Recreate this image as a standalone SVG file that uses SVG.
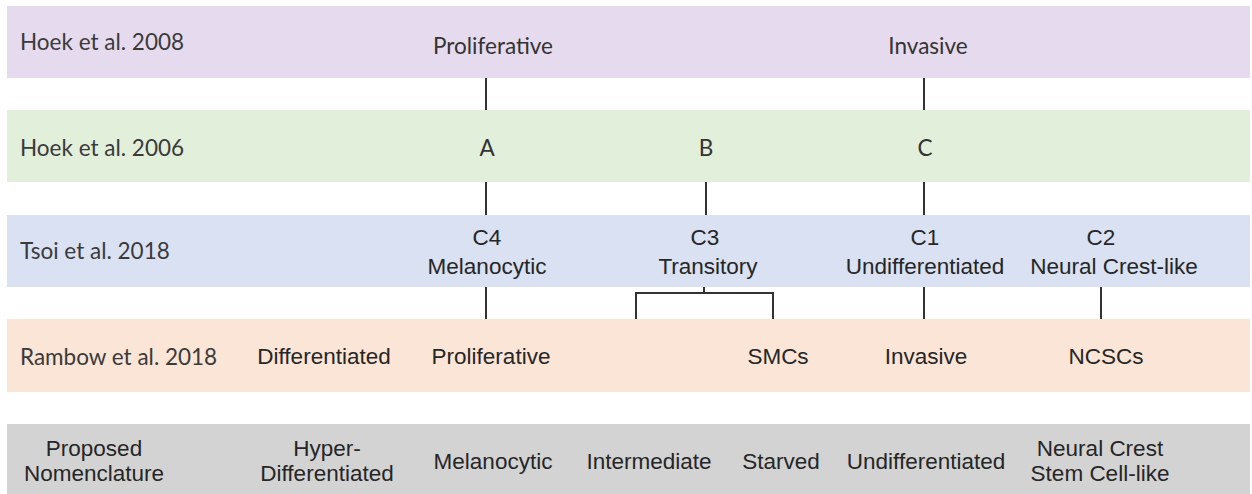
<svg xmlns="http://www.w3.org/2000/svg" width="1252" height="494" viewBox="0 0 1252 494">
<style>
.band{stroke:none}
.lab{font-family:"Lato","Open Sans",sans-serif;font-size:22.5px;fill:#3a3a3a}
.t{font-family:"Liberation Sans",Arial,sans-serif;font-size:22.5px;fill:#262626;text-anchor:middle}
.tc{font-family:"Lato","Open Sans",sans-serif;font-size:22.5px;fill:#333;text-anchor:middle}
.ln{stroke:#333;stroke-width:2;fill:none}
</style>
<rect width="1252" height="494" fill="#fff"/>
<g id="row-hoek2008">
<rect class="band" x="7" y="6" width="1243" height="72" fill="#E6DAEE"/>
<text class="lab" x="20" y="50">Hoek et al. 2008</text>
<text class="tc" x="493" y="54">Proliferative</text>
<text class="tc" x="928" y="54">Invasive</text>
</g>
<g id="row-hoek2006">
<rect class="band" x="7" y="110" width="1243" height="72" fill="#E2EFDA"/>
<text class="lab" x="20" y="156">Hoek et al. 2006</text>
<text class="tc" x="487" y="156">A</text>
<text class="tc" x="706" y="156">B</text>
<text class="tc" x="925" y="156">C</text>
</g>
<g id="row-tsoi2018">
<rect class="band" x="7" y="215" width="1243" height="72" fill="#D9E1F2"/>
<text class="lab" x="20" y="259">Tsoi et al. 2018</text>
<text class="t" x="487" y="245">C4</text>
<text class="t" x="487" y="274">Melanocytic</text>
<text class="t" x="705" y="245">C3</text>
<text class="t" x="708" y="274">Transitory</text>
<text class="t" x="925" y="245">C1</text>
<text class="t" x="925" y="274">Undifferentiated</text>
<text class="t" x="1101" y="245">C2</text>
<text class="t" x="1114" y="274">Neural Crest-like</text>
</g>
<g id="row-rambow2018">
<rect class="band" x="7" y="319" width="1243" height="73" fill="#FBE5D6"/>
<text class="lab" x="20" y="365">Rambow et al. 2018</text>
<text class="t" x="324" y="364">Differentiated</text>
<text class="t" x="491" y="364">Proliferative</text>
<text class="t" x="778" y="364">SMCs</text>
<text class="t" x="926" y="364">Invasive</text>
<text class="t" x="1106" y="364">NCSCs</text>
</g>
<g id="row-proposed">
<rect class="band" x="7" y="424" width="1243" height="70" fill="#D3D3D3"/>
<text class="t" x="94" y="456">Proposed</text>
<text class="t" x="94" y="481">Nomenclature</text>
<text class="t" x="327" y="456">Hyper-</text>
<text class="t" x="327" y="481">Differentiated</text>
<text class="t" x="493" y="469">Melanocytic</text>
<text class="t" x="649" y="469">Intermediate</text>
<text class="t" x="781" y="469">Starved</text>
<text class="t" x="926" y="469">Undifferentiated</text>
<text class="t" x="1100" y="456">Neural Crest</text>
<text class="t" x="1100" y="481">Stem Cell-like</text>
</g>
<g id="connectors">
<line class="ln" x1="486" y1="78" x2="486" y2="110"/>
<line class="ln" x1="924" y1="78" x2="924" y2="110"/>
<line class="ln" x1="486" y1="182" x2="486" y2="215"/>
<line class="ln" x1="706" y1="182" x2="706" y2="215"/>
<line class="ln" x1="924" y1="182" x2="924" y2="215"/>
<line class="ln" x1="486" y1="287" x2="486" y2="319"/>
<line class="ln" x1="924" y1="287" x2="924" y2="319"/>
<line class="ln" x1="1101" y1="287" x2="1101" y2="319"/>
<path class="ln" d="M704 287V293M636 319V293H773V319"/>
</g>
</svg>
